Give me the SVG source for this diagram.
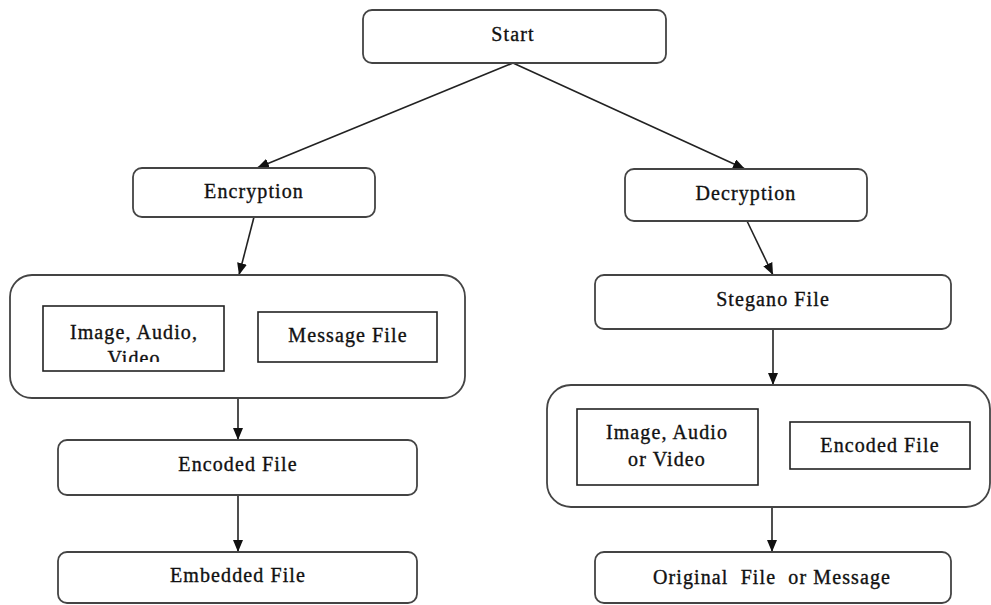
<svg xmlns="http://www.w3.org/2000/svg" width="991" height="605" viewBox="0 0 991 605">
  <defs>
    <marker id="arrow" viewBox="0 0 12 10" refX="12" refY="5" markerWidth="12" markerHeight="10" markerUnits="userSpaceOnUse" orient="auto">
      <path d="M0,0 L12,5 L0,10 Z" fill="#111"/>
    </marker>
    <clipPath id="clipVideo">
      <rect x="43" y="306" width="181" height="56"/>
    </clipPath>
  </defs>
  <style>
    .box { fill: #fff; stroke: #444; stroke-width: 1.8; }
    .inner { fill: #fff; stroke: #222; stroke-width: 1.6; }
    .lbl { font-family: "Liberation Serif", "Times New Roman", serif; font-size: 20px; letter-spacing: 1.1px; fill: #111; stroke: #111; stroke-width: 0.35; text-anchor: middle; dominant-baseline: central; white-space: pre; }
    .edge { stroke: #222; stroke-width: 1.6; fill: none; marker-end: url(#arrow); }
  </style>
  <rect width="991" height="605" fill="#fff"/>

  <g id="connectors">
    <line class="edge" x1="513" y1="63" x2="257" y2="168"/>
    <line class="edge" x1="513" y1="63" x2="745" y2="169"/>
    <line class="edge" x1="254" y1="217" x2="239" y2="275"/>
    <line class="edge" x1="238" y1="398" x2="238" y2="440"/>
    <line class="edge" x1="238" y1="495" x2="238" y2="552"/>
    <line class="edge" x1="747" y1="221" x2="773" y2="275"/>
    <line class="edge" x1="773" y1="329" x2="773" y2="385"/>
    <line class="edge" x1="772" y1="507" x2="772" y2="552"/>
  </g>

  <g id="start">
    <rect class="box" x="363" y="10" width="303" height="53" rx="9"/>
    <text class="lbl" x="513" y="34">Start</text>
  </g>

  <g id="encryption">
    <rect class="box" x="133" y="168" width="242" height="49" rx="9"/>
    <text class="lbl" x="254" y="191">Encryption</text>
  </g>

  <g id="decryption">
    <rect class="box" x="625" y="169" width="242" height="52" rx="9"/>
    <text class="lbl" x="746" y="193">Decryption</text>
  </g>

  <g id="encrypt-inputs">
    <rect class="box" x="10" y="275" width="455" height="123" rx="22"/>
    <rect class="inner" x="43" y="306" width="181" height="65"/>
    <text class="lbl" x="134" y="332">Image, Audio,</text>
    <text class="lbl" x="134" y="358" clip-path="url(#clipVideo)">Video</text>
    <rect class="inner" x="258" y="312" width="179" height="50"/>
    <text class="lbl" x="348" y="335">Message File</text>
  </g>

  <g id="encoded-file">
    <rect class="box" x="58" y="440" width="359" height="55" rx="9"/>
    <text class="lbl" x="238" y="464">Encoded File</text>
  </g>

  <g id="embedded-file">
    <rect class="box" x="58" y="552" width="359" height="51" rx="9"/>
    <text class="lbl" x="238" y="575">Embedded File</text>
  </g>

  <g id="stegano-file">
    <rect class="box" x="595" y="275" width="356" height="54" rx="9"/>
    <text class="lbl" x="773" y="299">Stegano File</text>
  </g>

  <g id="decrypt-inputs">
    <rect class="box" x="547" y="385" width="443" height="122" rx="24"/>
    <rect class="inner" x="577" y="409" width="181" height="76"/>
    <text class="lbl" x="667" y="432">Image, Audio</text>
    <text class="lbl" x="667" y="459">or Video</text>
    <rect class="inner" x="790" y="422" width="180" height="47"/>
    <text class="lbl" x="880" y="445">Encoded File</text>
  </g>

  <g id="original-file">
    <rect class="box" x="595" y="552" width="356" height="51" rx="9"/>
    <text class="lbl" x="772" y="577" xml:space="preserve">Original  File  or Message</text>
  </g>
</svg>
